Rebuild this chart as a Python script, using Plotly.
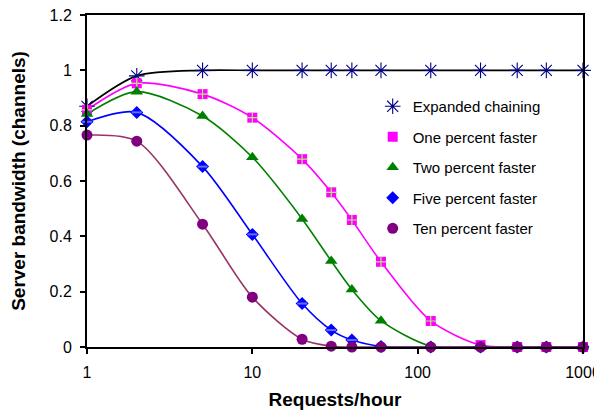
import plotly.graph_objects as go

requests = [1, 2, 5, 10, 20, 30, 40, 60, 120, 240, 400, 600, 1000]

expanded = [0.87, 0.98, 1.0, 1.0, 1.0, 1.0, 1.0, 1.0, 1.0, 1.0, 1.0, 1.0, 1.0]
one_pct = [0.857, 0.953, 0.914, 0.829, 0.679, 0.559, 0.459, 0.308, 0.094, 0.007, 0.0, 0.0, 0.0]
two_pct = [0.842, 0.923, 0.835, 0.686, 0.463, 0.311, 0.208, 0.095, 0.003, 0.0, 0.0, 0.0, 0.0]
five_pct = [0.814, 0.848, 0.652, 0.407, 0.157, 0.061, 0.025, 0.002, 0.0, 0.0, 0.0, 0.0, 0.0]
ten_pct = [0.766, 0.744, 0.444, 0.180, 0.028, 0.003, 0.0, 0.0, 0.0, 0.0, 0.0, 0.0, 0.0]

series = [
    ("Expanded chaining", expanded, "black", "#000080", "asterisk-open", 13),
    ("One percent faster", one_pct, "#FF00FF", "#FF00FF", "square", 10),
    ("Two percent faster", two_pct, "#008000", "#008000", "triangle-up", 11),
    ("Five percent faster", five_pct, "#0000FF", "#0000FF", "diamond", 10),
    ("Ten percent faster", ten_pct, "#993366", "#800080", "circle", 11),
]

FONT = "Arial, Liberation Sans, sans-serif"
fig = go.Figure()

# smoothed lines
for name, ys, lcol, mcol, sym, size in series:
    fig.add_trace(go.Scatter(
        x=requests, y=ys, mode="lines", line=dict(color=lcol, width=1.6, shape="spline", smoothing=0.8),
        showlegend=False, hoverinfo="skip", cliponaxis=False))

# markers (legend)
for i, (name, ys, lcol, mcol, sym, size) in enumerate(series):
    mk = dict(symbol=sym, size=size, color=mcol)
    if sym == "asterisk-open":
        mk["line"] = dict(color=mcol, width=1.1)
    else:
        mk["line"] = dict(width=0)
    fig.add_trace(go.Scatter(
        x=requests, y=ys, mode="markers", name=name, marker=mk,
        legendgroup=f"g{i}", cliponaxis=False))
    if name == "One percent faster":
        fig.add_trace(go.Scatter(
            x=requests, y=ys, mode="markers", showlegend=False, hoverinfo="skip",
            marker=dict(symbol="cross-thin-open", size=8, line=dict(color="#3a7fb0", width=1.2)),
            cliponaxis=False))
    if name == "Five percent faster":
        fig.add_trace(go.Scatter(
            x=requests, y=ys, mode="markers", showlegend=False, hoverinfo="skip",
            marker=dict(symbol="line-ew-open", size=7, line=dict(color="#33CCFF", width=2)),
            cliponaxis=False))

# the page has an 8px body margin, so the figure is sized to fit the 602x414 window
fig.update_layout(
    width=594, height=406,
    margin=dict(l=79, r=19, t=7, b=67),
    paper_bgcolor="white", plot_bgcolor="white",
    font=dict(family=FONT, size=16, color="black"),
    legend=dict(x=0.576, y=0.774, xanchor="left", yanchor="top",
                font=dict(family=FONT, size=15, color="black"),
                bgcolor="rgba(0,0,0,0)", tracegroupgap=8, itemwidth=30),
    showlegend=True,
)

fig.update_xaxes(
    type="log", range=[0, 3], dtick=1, automargin=False,
    showgrid=False, zeroline=False,
    showline=True, linecolor="black", linewidth=2, mirror=True,
    ticks="outside", ticklen=5, tickwidth=2, tickcolor="black", ticklabelstandoff=5,
    ticklabeloverflow="allow",
    tickfont=dict(family=FONT, size=16),
    title=dict(text="<b>Requests/hour</b>", font=dict(family=FONT, size=19), standoff=12),
)
fig.update_yaxes(
    range=[0, 1.2], dtick=0.2, automargin=False,
    showgrid=False, zeroline=False,
    showline=True, linecolor="black", linewidth=2, mirror=True,
    ticks="outside", ticklen=5, tickwidth=2, tickcolor="black", ticklabelstandoff=5,
    ticklabeloverflow="allow",
    tickfont=dict(family=FONT, size=16),
    title=dict(text="<b>Server bandwidth (channels)</b>", font=dict(family=FONT, size=19), standoff=24),
)

fig.write_html("out.html")
